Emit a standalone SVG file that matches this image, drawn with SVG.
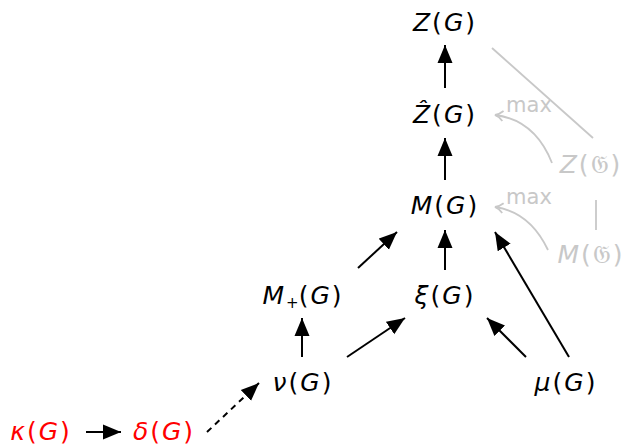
<svg xmlns="http://www.w3.org/2000/svg" width="633" height="445" viewBox="0 0 633 445">
<style>
text{font-family:"DejaVu Sans","Noto Sans",sans-serif;font-size:25px;text-anchor:middle;letter-spacing:2px}
.i{font-style:italic}
.red{fill:#ff0000}
.gray{fill:#c8c8c8}
.e{stroke:#000;stroke-width:2;fill:none}
.g{stroke:#c8c8c8;stroke-width:1.8;fill:none}
.lbl{font-size:21px;letter-spacing:0}
</style>
<defs>
<marker id="ah" markerUnits="userSpaceOnUse" markerWidth="20" markerHeight="20" refX="18" refY="8" orient="auto">
<path d="M0,0.5 L18,8 L0,15.5 Z" fill="#000"/>
</marker>
<marker id="gh" markerUnits="userSpaceOnUse" markerWidth="14" markerHeight="14" refX="9" refY="6" orient="auto">
<path d="M1,1 Q5,5 9,6 Q5,7 1,11" fill="none" stroke="#c8c8c8" stroke-width="1.8"/>
</marker>
</defs>
<g id="connectors">
<line class="e" x1="445" y1="88" x2="445" y2="45" marker-end="url(#ah)"/>
<line class="e" x1="445" y1="180" x2="445" y2="138" marker-end="url(#ah)"/>
<line class="e" x1="445" y1="270" x2="445" y2="230" marker-end="url(#ah)"/>
<line class="e" x1="358" y1="268" x2="397" y2="232" marker-end="url(#ah)"/>
<line class="e" x1="569" y1="357" x2="495" y2="232" marker-end="url(#ah)"/>
<line class="e" x1="302" y1="357" x2="302" y2="318" marker-end="url(#ah)"/>
<line class="e" x1="347" y1="357" x2="405" y2="318" marker-end="url(#ah)"/>
<line class="e" x1="526" y1="357" x2="487" y2="318" marker-end="url(#ah)"/>
<line class="e" x1="86" y1="432" x2="121" y2="432" marker-end="url(#ah)"/>
<line class="e" x1="207" y1="432" x2="259" y2="383" stroke-dasharray="6,5" marker-end="url(#ah)"/>
<line class="g" x1="492" y1="48" x2="593" y2="138"/>
<line class="g" x1="596" y1="200" x2="596" y2="230"/>
<path class="g" d="M552,163 Q535,120 495,115" marker-end="url(#gh)"/>
<path class="g" d="M548,250 Q530,212 495,207" marker-end="url(#gh)"/>
<text class="gray lbl" x="529" y="112">max</text>
<text class="gray lbl" x="529" y="204">max</text>
</g>
<g id="Z"><text x="445" y="31"><tspan class="i">Z</tspan>(<tspan class="i">G</tspan>)</text></g>
<g id="Zhat"><text x="445" y="123"><tspan class="i">Ẑ</tspan>(<tspan class="i">G</tspan>)</text></g>
<g id="M"><text x="445" y="214"><tspan class="i">M</tspan>(<tspan class="i">G</tspan>)</text></g>
<g id="Mplus"><text x="303" y="304"><tspan class="i">M</tspan><tspan font-size="15" dy="4" letter-spacing="0">+</tspan><tspan dy="-4">(</tspan><tspan class="i">G</tspan>)</text></g>
<g id="xi"><text x="445" y="304"><tspan class="i">ξ</tspan>(<tspan class="i">G</tspan>)</text></g>
<g id="nu"><text x="303" y="391"><tspan class="i">ν</tspan>(<tspan class="i">G</tspan>)</text></g>
<g id="mu"><text x="566" y="391"><tspan class="i">μ</tspan>(<tspan class="i">G</tspan>)</text></g>
<g id="kappa"><text class="red" x="41" y="440"><tspan class="i">κ</tspan>(<tspan class="i">G</tspan>)</text></g>
<g id="delta"><text class="red" x="164" y="440"><tspan class="i">δ</tspan>(<tspan class="i">G</tspan>)</text></g>
<g id="Zfrak"><text class="gray" x="591" y="173"><tspan class="i">Z</tspan>(𝔊)</text></g>
<g id="Mfrak"><text class="gray" x="591" y="263"><tspan class="i">M</tspan>(𝔊)</text></g>
</svg>
